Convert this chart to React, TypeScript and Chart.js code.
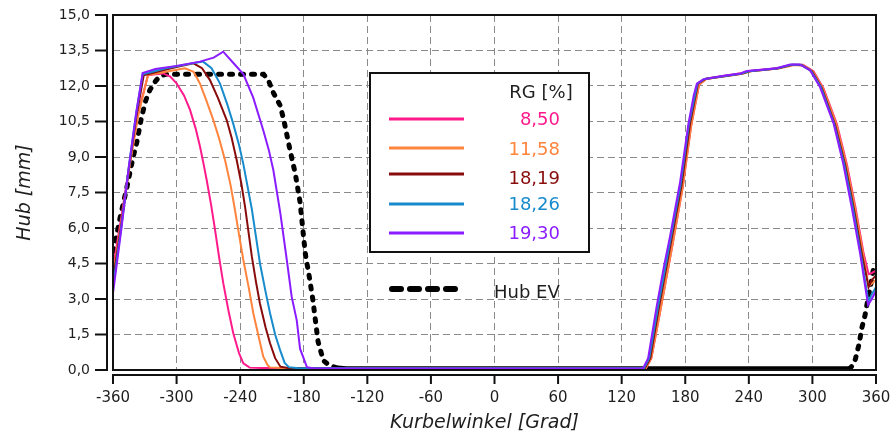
import React, { useEffect, useRef } from 'react';
import { Chart, registerables } from 'chart.js';

Chart.register(...registerables);

type Pt = [number, number];

// Kurbelwinkel [Grad] -> Hub [mm]
const hubRg850: Pt[] = [
  [-360, 4.3], [-352, 6.5], [-344, 8.8], [-336, 10.9], [-327, 12.45], [-320, 12.5], [-312.5, 12.53],
  [-306, 12.4], [-300, 12.11], [-293, 11.6], [-287.3, 10.99], [-282, 10.2], [-277.9, 9.44], [-274.5, 8.7],
  [-271.6, 8.03], [-267.5, 7.0], [-263.7, 5.92], [-260, 4.8], [-255.9, 3.66], [-251, 2.5], [-246.5, 1.55],
  [-241, 0.7], [-237, 0.28], [-231, 0.1], [-220, 0.08], [143, 0.08], [148, 0.5], [156, 2.4], [168, 5.3],
  [177.5, 7.7], [185.5, 10.3], [193, 12.05], [200, 12.32], [234, 12.55], [242, 12.65], [268, 12.76],
  [282, 12.9], [291, 12.9], [301, 12.62], [310.5, 11.9], [323, 10.4], [332.5, 8.7], [340.5, 6.9],
  [348, 5.0], [353, 4.05], [356, 4.1], [360, 4.2],
];

const hubRg1158: Pt[] = [
  [-360, 4.0], [-352, 6.3], [-344, 8.7], [-336, 10.8], [-327, 12.46], [-310, 12.6], [-292, 12.75],
  [-284, 12.6], [-278, 12.11], [-272, 11.4], [-265.3, 10.56], [-260, 9.8], [-254.3, 8.87], [-249, 7.8],
  [-244.9, 6.76], [-241, 5.7], [-237, 4.65], [-232, 3.5], [-227.6, 2.4], [-222, 1.3], [-218.2, 0.56],
  [-214, 0.2], [-211.8, 0.11], [-200, 0.08], [143, 0.08], [148, 0.5], [156, 2.4], [168, 5.3],
  [177.5, 7.7], [185.5, 10.3], [193, 12.05], [200, 12.3], [234, 12.52], [242, 12.62], [268, 12.74],
  [282, 12.88], [291, 12.88], [300.5, 12.62], [310, 11.9], [322.5, 10.4], [332, 8.7], [340, 6.9],
  [347.5, 5.0], [353, 3.55], [356, 3.65], [360, 3.8],
];

const hubRg1819: Pt[] = [
  [-360, 3.8], [-352, 6.2], [-345, 8.5], [-338, 10.7], [-331, 12.45], [-310, 12.7], [-295, 12.85],
  [-284, 12.96], [-276, 12.75], [-268.5, 12.25], [-261, 11.5], [-252.7, 10.56], [-248, 9.8],
  [-243.3, 8.87], [-239, 7.9], [-235.4, 6.9], [-229, 4.8], [-225, 3.7], [-221.3, 2.8], [-216, 1.8],
  [-211.8, 1.13], [-207, 0.5], [-202, 0.14], [-195, 0.08], [142, 0.08], [147, 0.5], [155, 2.6],
  [167, 5.5], [176.5, 7.8], [184.5, 10.4], [192, 12.1], [199, 12.3], [233, 12.52], [241, 12.62],
  [267, 12.74], [281, 12.9], [290, 12.88], [299.5, 12.62], [309, 11.9], [321.5, 10.35], [331, 8.65],
  [339, 6.85], [346.5, 4.95], [353, 3.5], [356, 3.8], [360, 4.0],
];

const hubRg1826: Pt[] = [
  [-360, 3.5], [-352, 6.1], [-345, 8.6], [-338, 10.9], [-332, 12.5], [-310, 12.75], [-290, 12.92],
  [-275, 13.03], [-267, 12.75], [-259, 12.1], [-252, 11.2], [-246.5, 10.4], [-241, 9.5], [-237, 8.7],
  [-229, 6.8], [-221.3, 4.5], [-216, 3.3], [-211.8, 2.4], [-207, 1.5], [-202.4, 0.85], [-198, 0.3],
  [-194, 0.12], [-185, 0.07], [141, 0.07], [146, 0.5], [154, 2.6], [166, 5.5], [175.5, 7.8],
  [183.5, 10.4], [191.5, 12.1], [198, 12.3], [232, 12.52], [240, 12.62], [266, 12.74], [280, 12.9],
  [289, 12.9], [298.5, 12.65], [308, 11.95], [320.5, 10.4], [330, 8.7], [338, 6.9], [345.5, 4.95],
  [352.8, 2.9], [356, 3.2], [360, 3.5],
];

const hubRg1930: Pt[] = [
  [-360, 3.25], [-352, 6.0], [-345, 8.6], [-338, 10.9], [-332, 12.55], [-320, 12.72], [-300, 12.85],
  [-278, 13.03], [-265, 13.2], [-256, 13.45], [-246, 12.95], [-237, 12.5], [-227.6, 11.5], [-218, 10.1],
  [-213, 9.3], [-208.7, 8.45], [-202, 6.6], [-196, 4.65], [-191.4, 3.1], [-186.6, 2.1], [-183.5, 0.9],
  [-177, 0.12], [-170, 0.06], [140, 0.06], [145, 0.5], [153, 2.68], [160, 4.4], [165.6, 5.63],
  [175, 7.9], [183, 10.4], [188, 11.6], [191, 12.1], [197, 12.28], [215, 12.42], [232, 12.53],
  [238, 12.63], [255, 12.7], [266, 12.75], [279, 12.91], [288, 12.91], [297.7, 12.67], [307, 11.97],
  [320, 10.42], [329, 8.73], [337, 6.9], [345, 4.93], [352.5, 2.75], [356, 3.0], [360, 3.35],
];

const hubEv: Pt[] = [
  [-360, 5.0], [-357, 5.6], [-353, 6.5], [-347, 7.7], [-341, 9.0], [-337.6, 9.6], [-333, 10.7],
  [-329, 11.4], [-325, 11.85], [-320, 12.2], [-316, 12.4], [-310, 12.5], [-218, 12.5], [-213, 12.2],
  [-208.5, 11.7], [-202.5, 11.2], [-199, 10.6], [-193, 9.3], [-188, 8.3], [-183.5, 7.1], [-178.5, 4.9],
  [-175, 4.0], [-171.5, 3.0], [-169, 2.1], [-166.5, 1.2], [-161.5, 0.4], [-156, 0.2], [-148, 0.08],
  [-140, 0.05], [335, 0.05], [338, 0.2], [340.5, 0.45], [344.2, 1.13], [346.5, 1.76], [349.6, 2.3],
  [352, 2.9], [355, 3.6], [357.5, 4.25], [360, 4.3],
];

const rgLabels = ['8,50', '11,58', '18,19', '18,26', '19,30'];
const rgColors = ['#ff1a8c', '#ff843c', '#880c0c', '#178bcc', '#8a1cff'];
const rgSeries = [hubRg850, hubRg1158, hubRg1819, hubRg1826, hubRg1930];
const evLabel = 'Hub EV';
const legendTitle = 'RG [%]';

const xTickValues = [-360, -300, -240, -180, -120, -60, 0, 60, 120, 180, 240, 300, 360];
const yTickValues = [0, 1.5, 3, 4.5, 6, 7.5, 9, 10.5, 12, 13.5, 15];

const xTitle = 'Kurbelwinkel [Grad]';
const yTitle = 'Hub [mm]';

const TEXT = '#1e1e1e';
const FONT = '"DejaVu Sans", "Liberation Sans", sans-serif';

const toPoints = (s: Pt[]) => s.map(([x, y]) => ({ x, y }));

// frame around the plot, offset axes with tick marks, axis titles
const frameAxesPlugin = {
  id: 'frameAxes',
  afterDraw(chart: any) {
    const { ctx, chartArea: a, scales } = chart;
    const xs = scales.x;
    const ys = scales.y;
    ctx.save();
    ctx.strokeStyle = '#111';
    ctx.lineWidth = 2;
    ctx.strokeRect(a.left, a.top, a.right - a.left, a.bottom - a.top);

    const axisX = a.left - 6;
    const axisY = a.bottom + 5;
    ctx.beginPath();
    ctx.moveTo(axisX, ys.getPixelForValue(yTickValues[yTickValues.length - 1]) - 1);
    ctx.lineTo(axisX, ys.getPixelForValue(yTickValues[0]) + 1);
    yTickValues.forEach((v) => {
      const py = ys.getPixelForValue(v);
      ctx.moveTo(axisX - 12, py);
      ctx.lineTo(axisX + 1, py);
    });
    ctx.moveTo(xs.getPixelForValue(xTickValues[0]) - 1, axisY);
    ctx.lineTo(xs.getPixelForValue(xTickValues[xTickValues.length - 1]) + 1, axisY);
    xTickValues.forEach((v) => {
      const px = xs.getPixelForValue(v);
      ctx.moveTo(px, axisY - 1);
      ctx.lineTo(px, axisY + 9);
    });
    ctx.stroke();

    ctx.fillStyle = TEXT;
    ctx.font = `italic 19px ${FONT}`;
    ctx.textAlign = 'center';
    ctx.textBaseline = 'alphabetic';
    ctx.fillText(xTitle, (a.left + a.right) / 2 - 10, 428);

    ctx.translate(30, (a.top + a.bottom) / 2);
    ctx.rotate(-Math.PI / 2);
    ctx.fillText(yTitle, 0, 0);
    ctx.restore();
  },
};

// boxed legend for the RG series plus the separate Hub EV entry
const legendPlugin = {
  id: 'rgLegend',
  afterDraw(chart: any) {
    const { ctx } = chart;
    const ds = chart.data.datasets;
    ctx.save();
    ctx.fillStyle = '#fff';
    ctx.fillRect(370, 73, 219, 179);
    ctx.strokeStyle = '#111';
    ctx.lineWidth = 2;
    ctx.strokeRect(370, 73, 219, 179);

    ctx.font = `18px ${FONT}`;
    ctx.fillStyle = TEXT;
    ctx.textAlign = 'center';
    ctx.textBaseline = 'middle';
    ctx.fillText(legendTitle, 541, 93);

    const lineY = [119, 148, 174, 204, 233];
    const textY = [120, 150, 179, 205, 234];
    for (let i = 0; i < rgLabels.length; i++) {
      const d = ds[i];
      ctx.strokeStyle = d.borderColor;
      ctx.lineWidth = 3;
      ctx.beginPath();
      ctx.moveTo(389, lineY[i]);
      ctx.lineTo(464, lineY[i]);
      ctx.stroke();
      ctx.fillStyle = d.borderColor;
      ctx.textAlign = 'right';
      ctx.fillText(d.label, 560, textY[i]);
    }

    const ev = ds[rgLabels.length];
    ctx.strokeStyle = ev.borderColor;
    ctx.lineWidth = 6;
    ctx.lineCap = 'round';
    ctx.setLineDash([9, 9]);
    ctx.beginPath();
    ctx.moveTo(392, 289);
    ctx.lineTo(461, 289);
    ctx.stroke();
    ctx.setLineDash([]);
    ctx.fillStyle = TEXT;
    ctx.textAlign = 'left';
    ctx.fillText(ev.label, 494, 293);
    ctx.restore();
  },
};

export default function App() {
  const canvasRef = useRef<HTMLCanvasElement | null>(null);

  useEffect(() => {
    const canvas = canvasRef.current;
    if (!canvas) return;

    const rgDatasets = rgSeries.map((s, i) => ({
      label: rgLabels[i],
      data: toPoints(s),
      borderColor: rgColors[i],
      backgroundColor: rgColors[i],
      borderWidth: 2,
      pointRadius: 0,
      tension: 0,
      fill: false,
      order: rgSeries.length - 1 - i,
    }));

    const evDataset = {
      label: evLabel,
      data: toPoints(hubEv),
      borderColor: '#000',
      backgroundColor: '#000',
      borderWidth: 5,
      borderCapStyle: 'round',
      borderDash: [3, 8],
      pointRadius: 0,
      tension: 0,
      fill: false,
      order: rgSeries.length,
      segment: {
        borderDash: (c: any) => (c.p0.parsed.y < 0.1 && c.p1.parsed.y < 0.1 ? [] : [3, 8]),
      },
    };

    const gridStyle = { color: '#8a8a8a', lineWidth: 1, drawTicks: false };

    const chart = new Chart(canvas, {
      type: 'line',
      data: { datasets: [...rgDatasets, evDataset] as any },
      options: {
        responsive: false,
        animation: false,
        devicePixelRatio: 1,
        layout: { padding: { left: 0, right: 14, top: 15, bottom: 0 } },
        plugins: { legend: { display: false }, tooltip: { enabled: false } },
        scales: {
          x: {
            type: 'linear',
            min: -360,
            max: 360,
            afterBuildTicks: (s: any) => { s.ticks = xTickValues.map((v) => ({ value: v })); },
            afterFit: (s: any) => {
              s.height = 64;
              s.paddingLeft = 0;
              s.paddingRight = 0;
              s.paddingTop = 0;
              s.paddingBottom = 0;
            },
            grid: gridStyle,
            border: { display: false, dash: [7, 4] },
            ticks: {
              padding: 19,
              color: TEXT,
              font: { family: FONT, size: 15 },
              maxRotation: 0,
              autoSkip: false,
              callback: (v: any) => String(v),
            },
          },
          y: {
            type: 'linear',
            min: 0,
            max: 15,
            afterBuildTicks: (s: any) => { s.ticks = yTickValues.map((v) => ({ value: v })); },
            afterFit: (s: any) => {
              s.width = 113;
              s.paddingLeft = 0;
              s.paddingRight = 0;
              s.paddingTop = 0;
              s.paddingBottom = 0;
            },
            grid: gridStyle,
            border: { display: false, dash: [7, 4] },
            ticks: {
              padding: 23,
              color: TEXT,
              font: { family: FONT, size: 14 },
              autoSkip: false,
              callback: (v: any) => Number(v).toFixed(1).replace('.', ','),
            },
          },
        },
      },
      plugins: [frameAxesPlugin, legendPlugin],
    });

    return () => chart.destroy();
  }, []);

  return (
    <div style={{ position: 'fixed', left: 0, top: 0, width: 890, height: 434, background: '#fff' }}>
      <canvas ref={canvasRef} width={890} height={434} style={{ display: 'block' }} />
    </div>
  );
}
